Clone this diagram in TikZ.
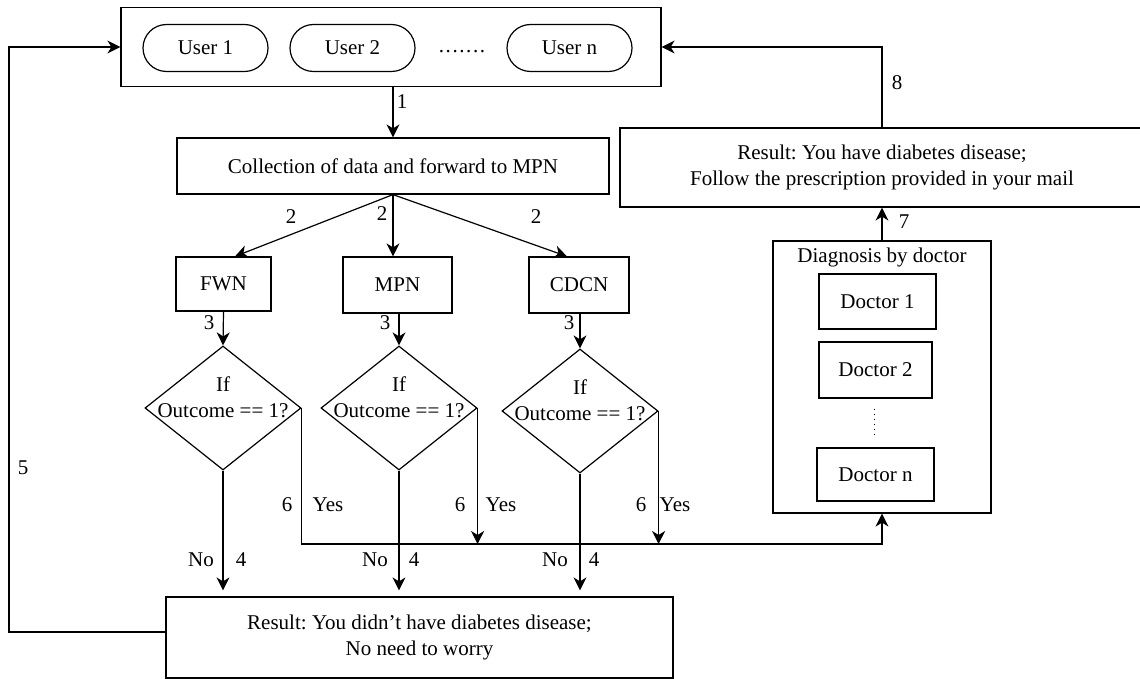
\documentclass[tikz,border=0pt]{standalone}
\usepackage{fontspec}
\setmainfont{Liberation Serif}
\usetikzlibrary{shapes.geometric,arrows.meta}
\frenchspacing
\begin{document}
\begin{tikzpicture}[x=0.5pt,y=-0.5pt,
  line width=0.6pt,
  font=\fontsize{10.5}{13}\selectfont,
  box/.style={draw,rectangle,inner sep=0pt,align=center},
  pill/.style={draw,rectangle,rounded corners=11.75pt,minimum width=62.5pt,minimum height=23.5pt,inner sep=0pt},
  cond/.style={draw,diamond,minimum width=78pt,minimum height=62pt,inner sep=0pt},
  arr/.style={-{Stealth[length=6.5pt,width=6.5pt,inset=2pt]}},
  lbl/.style={inner sep=0pt}
]
\useasboundingbox (0,0) rectangle (1140,679);

% users
\node[box,minimum width=270pt,minimum height=39.5pt] (users) at (391,47) {};
\node[pill] (u1) at (205.5,48) {User 1};
\node[pill] (u2) at (352.5,48) {User 2};
\node[lbl] (udots) at (462,52) {.\kern.8pt.\kern.8pt.\kern.8pt.\kern.8pt.\kern.8pt.\kern.8pt.};
\node[pill] (un) at (569.5,48) {User n};

% collection and the three networks
\node[box,minimum width=216pt,minimum height=28pt] (coll) at (393,166) {Collection of data and forward to MPN};
\node[box,minimum width=47.5pt,minimum height=27pt] (fwn) at (223.5,284) {FWN};
\node[box,minimum width=54.5pt,minimum height=28pt] (mpn) at (397.5,285) {MPN};
\node[box,minimum width=50pt,minimum height=28pt] (cdcn) at (579,285) {CDCN};

% decisions
\node[cond] (d1) at (223,408) {};
\node[cond] (d2) at (399,408) {};
\node[cond] (d3) at (580,411) {};
\node[lbl,align=center] (t1) at (223,397) {If\\Outcome == 1?};
\node[lbl,align=center] (t2) at (399,397) {If\\Outcome == 1?};
\node[lbl,align=center] (t3) at (580,400) {If\\Outcome == 1?};

% results
\node[box,minimum width=253.5pt,minimum height=40.5pt] (nores) at (419.5,637.5) {Result: You didn’t have diabetes disease;\\No need to worry};
\node[box,minimum width=262pt,minimum height=39.5pt] (have) at (882,167.5) {Result: You have diabetes disease;\\Follow the prescription provided in your mail};

% doctors
\node[box,minimum width=109pt,minimum height=136pt] (diag) at (882,377) {};
\node[lbl] (diagt) at (882,257) {Diagnosis by doctor};
\node[box,minimum width=58.5pt,minimum height=27.5pt] (doc1) at (877.5,301.5) {Doctor 1};
\node[box,minimum width=56.5pt,minimum height=28pt] (doc2) at (875.5,370) {Doctor 2};
\node[box,minimum width=58.5pt,minimum height=26.5pt] (docn) at (875.5,474.5) {Doctor n};
\draw[line width=0.5pt,dash pattern=on 0.5pt off 2pt] ([xshift=-0.75pt,yshift=-5pt]doc2.south) -- ([xshift=-0.75pt,yshift=6.5pt]docn.north);

% connectors
\draw[arr] (coll.north |- users.south) -- (coll.north);
\draw[arr] (coll.south) -- ([xshift=5.75pt]fwn.north);
\draw[arr] (coll.south) -- (coll.south |- mpn.north);
\draw[arr] (coll.south) -- ([xshift=-6pt]cdcn.north);
\draw[arr] (fwn.south) -- (d1.north);
\draw[arr] (d2.north |- mpn.south) -- (d2.north);
\draw[arr] (d3.north |- cdcn.south) -- (d3.north);
\draw[arr,shorten >=3pt] (d1.south) -- (d1.south |- nores.north);
\draw[arr,shorten >=3pt] (d2.south) -- (d2.south |- nores.north);
\draw[arr,shorten >=3pt] (d3.south) -- (d3.south |- nores.north);

\coordinate (bus) at (882,544);
\draw[arr] (d1.east) |- (bus) -- (diag.south);
\draw[arr] (d2.east) -- (d2.east |- bus);
\draw[arr] (d3.east) -- (d3.east |- bus);
\draw[arr] (diag.north) -- (have.south);
\draw[arr] (have.north) |- (users.east);
\coordinate (lc) at (9,47);
\draw[arr] ([yshift=2.75pt]nores.west) -| (lc) -- (users.west);

% step labels
\node[lbl] (l1) at (402,102) {1};
\node[lbl] (l2a) at (291,217) {2};
\node[lbl] (l2b) at (382,214) {2};
\node[lbl] (l2c) at (536,217) {2};
\node[lbl] (l3a) at (209,323) {3};
\node[lbl] (l3b) at (385,323) {3};
\node[lbl] (l3c) at (569,323) {3};
\node[lbl] (l6a) at (287,505) {6};
\node[lbl] (l6b) at (460,505) {6};
\node[lbl] (l6c) at (641,505) {6};
\node[lbl] (ya) at (328,505) {Yes};
\node[lbl] (yb) at (501,505) {Yes};
\node[lbl] (yc) at (675,505) {Yes};
\node[lbl] (na) at (201,560) {No};
\node[lbl] (nb) at (375,560) {No};
\node[lbl] (nc) at (555,560) {No};
\node[lbl] (l4a) at (241,560) {4};
\node[lbl] (l4b) at (414,560) {4};
\node[lbl] (l4c) at (594,560) {4};
\node[lbl] (l5) at (23,468) {5};
\node[lbl] (l8) at (897,83) {8};
\node[lbl] (l7) at (904,222) {7};
\end{tikzpicture}
\end{document}
